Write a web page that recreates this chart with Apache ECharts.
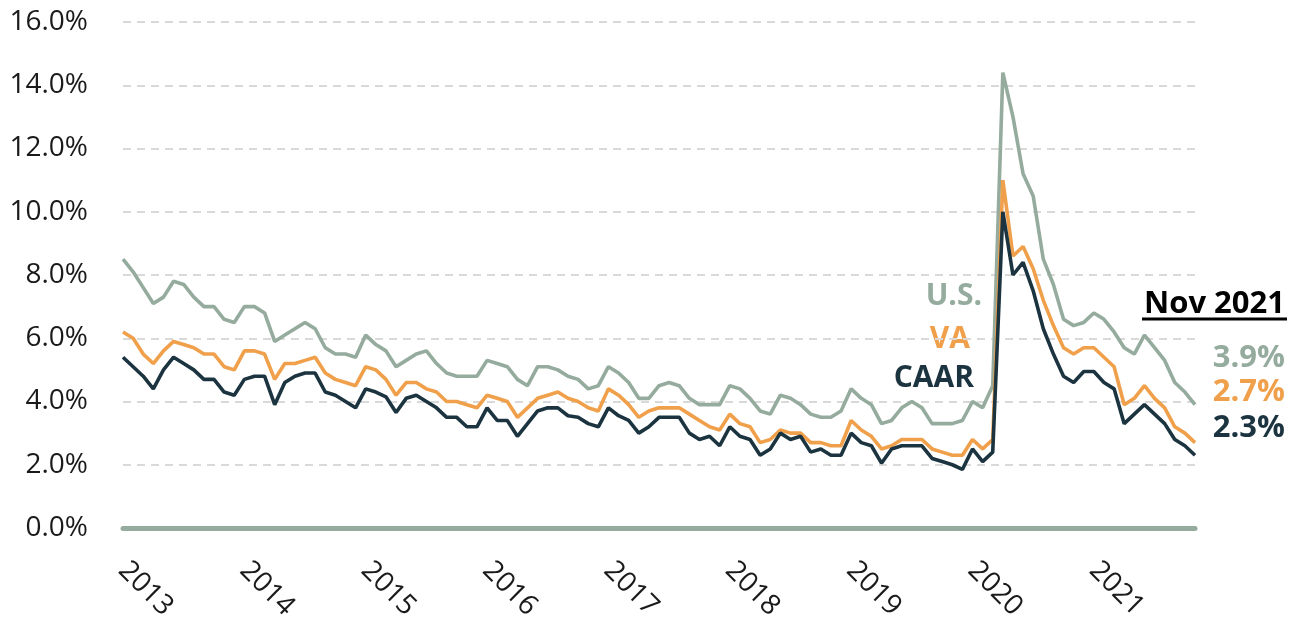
<!DOCTYPE html>
<html>
<head>
<meta charset="utf-8">
<script src="https://cdn.jsdelivr.net/npm/echarts@6/dist/echarts.min.js"></script>
<style>
  html, body { margin: 0; padding: 0; background: #fff; }
  #chart { width: 1300px; height: 620px; }
</style>
</head>
<body>
<div id="chart"></div>
<script>
// monthly unemployment rate, Jan 2013 - Nov 2021 (not seasonally adjusted)
var years = ['2013', '2014', '2015', '2016', '2017', '2018', '2019', '2020', '2021'];
var months = [];
years.forEach(function (y) {
    for (var m = 1; m <= 12; m++) months.push(y + '-' + (m < 10 ? '0' + m : m));
});
months = months.slice(0, 107);

var usData = [
    8.5, 8.1, 7.6, 7.1, 7.3, 7.8, 7.7, 7.3, 7.0, 7.0, 6.6, 6.5,
    7.0, 7.0, 6.8, 5.9, 6.1, 6.3, 6.5, 6.3, 5.7, 5.5, 5.5, 5.4,
    6.1, 5.8, 5.6, 5.1, 5.3, 5.5, 5.6, 5.2, 4.9, 4.8, 4.8, 4.8,
    5.3, 5.2, 5.1, 4.7, 4.5, 5.1, 5.1, 5.0, 4.8, 4.7, 4.4, 4.5,
    5.1, 4.9, 4.6, 4.1, 4.1, 4.5, 4.6, 4.5, 4.1, 3.9, 3.9, 3.9,
    4.5, 4.4, 4.1, 3.7, 3.6, 4.2, 4.1, 3.9, 3.6, 3.5, 3.5, 3.7,
    4.4, 4.1, 3.9, 3.3, 3.4, 3.8, 4.0, 3.8, 3.3, 3.3, 3.3, 3.4,
    4.0, 3.8, 4.5, 14.4, 13.0, 11.2, 10.5, 8.5, 7.7, 6.6, 6.4, 6.5,
    6.8, 6.6, 6.2, 5.7, 5.5, 6.1, 5.7, 5.3, 4.6, 4.3, 3.9
];
var vaData = [
    6.2, 6.0, 5.5, 5.2, 5.6, 5.9, 5.8, 5.7, 5.5, 5.5, 5.1, 5.0,
    5.6, 5.6, 5.5, 4.7, 5.2, 5.2, 5.3, 5.4, 4.9, 4.7, 4.6, 4.5,
    5.1, 5.0, 4.7, 4.2, 4.6, 4.6, 4.4, 4.3, 4.0, 4.0, 3.9, 3.8,
    4.2, 4.1, 4.0, 3.5, 3.8, 4.1, 4.2, 4.3, 4.1, 4.0, 3.8, 3.7,
    4.4, 4.2, 3.9, 3.5, 3.7, 3.8, 3.8, 3.8, 3.6, 3.4, 3.2, 3.1,
    3.6, 3.3, 3.2, 2.7, 2.8, 3.1, 3.0, 3.0, 2.7, 2.7, 2.6, 2.6,
    3.4, 3.1, 2.9, 2.5, 2.6, 2.8, 2.8, 2.8, 2.5, 2.4, 2.3, 2.3,
    2.8, 2.5, 2.8, 11.0, 8.6, 8.9, 8.2, 7.2, 6.4, 5.7, 5.5, 5.7,
    5.7, 5.4, 5.1, 3.9, 4.1, 4.5, 4.1, 3.8, 3.2, 3.0, 2.7
];
var caarData = [
    5.4, 5.1, 4.8, 4.4, 5.0, 5.4, 5.2, 5.0, 4.7, 4.7, 4.3, 4.2,
    4.7, 4.8, 4.8, 3.9, 4.6, 4.8, 4.9, 4.9, 4.3, 4.2, 4.0, 3.8,
    4.4, 4.3, 4.15, 3.65, 4.1, 4.2, 4.0, 3.8, 3.5, 3.5, 3.2, 3.2,
    3.8, 3.4, 3.4, 2.9, 3.3, 3.7, 3.8, 3.8, 3.55, 3.5, 3.3, 3.2,
    3.8, 3.55, 3.4, 3.0, 3.2, 3.5, 3.5, 3.5, 3.0, 2.8, 2.9, 2.6,
    3.2, 2.9, 2.8, 2.3, 2.5, 3.0, 2.8, 2.9, 2.4, 2.5, 2.3, 2.3,
    3.0, 2.7, 2.6, 2.05, 2.5, 2.6, 2.6, 2.6, 2.2, 2.1, 2.0, 1.85,
    2.5, 2.1, 2.4, 10.0, 8.0, 8.4, 7.5, 6.3, 5.5, 4.8, 4.6, 4.95,
    4.95, 4.6, 4.4, 3.3, 3.6, 3.9, 3.6, 3.3, 2.8, 2.6, 2.3
];

var SAGE = '#94ab9d';
var ORANGE = '#f0a04b';
var NAVY = '#1c3440';
var FONT = '"Open Sans", "Noto Sans", sans-serif';

var chart = echarts.init(document.getElementById('chart'));
var option = {
    animation: false,
    grid: {
        left: 123,
        right: 105,
        top: 22,
        bottom: 92,
        outerBoundsMode: 'none'
    },
    xAxis: {
        type: 'category',
        boundaryGap: false,
        data: months,
        axisTick: { show: false },
        axisLine: { lineStyle: { color: SAGE, width: 5 } },
        axisLabel: {
            interval: function (idx) { return idx % 12 === 0; },
            formatter: function (v) { return v.slice(0, 4); },
            rotate: -45,
            margin: 38,
            fontSize: 28,
            fontFamily: FONT,
            color: '#1a1a1a'
        },
        splitLine: { show: false }
    },
    yAxis: {
        type: 'value',
        min: 0,
        max: 16,
        interval: 2,
        axisLine: { show: false },
        axisTick: { show: false },
        axisLabel: {
            formatter: function (v) { return v.toFixed(1) + '%'; },
            margin: 35,
            fontSize: 28,
            fontFamily: FONT,
            color: '#1a1a1a'
        },
        splitLine: {
            lineStyle: { color: '#d9d9d9', width: 2, type: [8, 6] }
        }
    },
    series: [
        {
            name: 'U.S.', type: 'line', data: usData, showSymbol: false,
            lineStyle: { color: SAGE, width: 3.6 }, itemStyle: { color: SAGE }
        },
        {
            name: 'VA', type: 'line', data: vaData, showSymbol: false,
            lineStyle: { color: ORANGE, width: 3.6 }, itemStyle: { color: ORANGE }
        },
        {
            name: 'CAAR', type: 'line', data: caarData, showSymbol: false,
            lineStyle: { color: NAVY, width: 3.6 }, itemStyle: { color: NAVY }
        }
    ],
    graphic: [
        { type: 'text', x: 982, y: 296, style: { text: 'U.S.', fill: SAGE, font: 'bold 30px ' + FONT, align: 'right', verticalAlign: 'middle' } },
        { type: 'text', x: 970, y: 339, style: { text: 'VA', fill: ORANGE, font: 'bold 30px ' + FONT, align: 'right', verticalAlign: 'middle' } },
        { type: 'text', x: 974, y: 378, style: { text: 'CAAR', fill: NAVY, font: 'bold 30px ' + FONT, align: 'right', verticalAlign: 'middle' } },
        { type: 'text', x: 1285, y: 304, style: { text: 'Nov 2021', fill: '#000', font: 'bold 31px ' + FONT, align: 'right', verticalAlign: 'middle' } },
        { type: 'line', shape: { x1: 1142, y1: 319, x2: 1287, y2: 319 }, style: { stroke: '#000', lineWidth: 3 } },
        { type: 'text', x: 1285, y: 358, style: { text: '3.9%', fill: SAGE, font: 'bold 31px ' + FONT, align: 'right', verticalAlign: 'middle' } },
        { type: 'text', x: 1285, y: 392, style: { text: '2.7%', fill: ORANGE, font: 'bold 31px ' + FONT, align: 'right', verticalAlign: 'middle' } },
        { type: 'text', x: 1285, y: 428, style: { text: '2.3%', fill: NAVY, font: 'bold 31px ' + FONT, align: 'right', verticalAlign: 'middle' } }
    ]
};
chart.setOption(option);
</script>
</body>
</html>
